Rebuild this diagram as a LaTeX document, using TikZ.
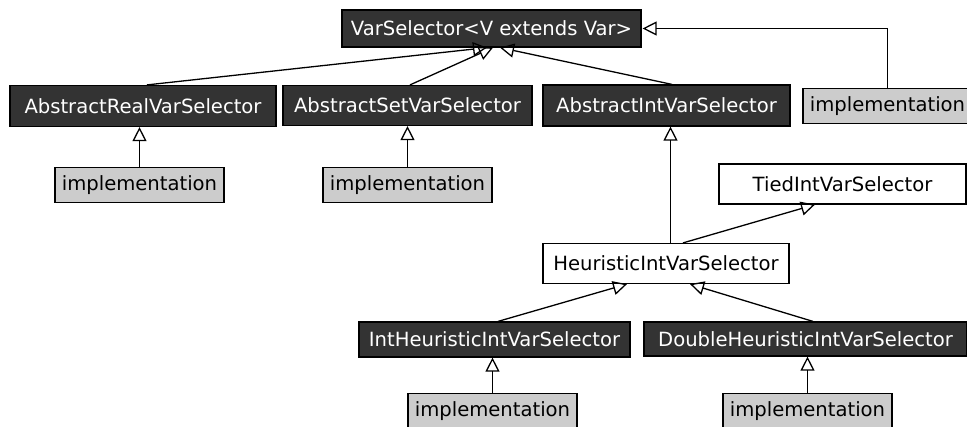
\documentclass[tikz,border=0pt]{standalone}
\usepackage{fontspec}
\setmainfont{DejaVu Sans}
\usetikzlibrary{arrows.meta}
\definecolor{darkbox}{RGB}{51,51,51}
\definecolor{implgray}{RGB}{204,204,204}
\begin{document}
\begin{tikzpicture}[x=1pt, y=-1pt,
        font=\fontsize{19.6}{23}\selectfont,
        cls/.style={draw=black, line width=1.2pt, inner sep=0pt},
        abst/.style={cls, fill=darkbox, text=white},
        impl/.style={cls, fill=implgray, minimum width=169pt, minimum height=35pt},
        plain/.style={cls, fill=white},
        inherit/.style={line width=1.3pt, -{Triangle[open, length=14pt, width=14pt]}}]
            \useasboundingbox (0, 0) rectangle (967, 426);

            \node[abst, minimum width=299pt, minimum height=37pt] (var) at (491.5, 28.5) {VarSelector<V extends Var>};
            \node[abst, minimum width=266pt, minimum height=41pt] (real) at (143, 106) {AbstractRealVarSelector};
            \node[abst, minimum width=249pt, minimum height=40pt] (set) at (407.5, 105.5) {AbstractSetVarSelector};
            \node[abst, minimum width=247pt, minimum height=41pt] (int) at (666.5, 105.5) {AbstractIntVarSelector};
            \node[impl] (implVar) at (887.5, 106) {implementation};
            \node[impl] (implReal) at (139.5, 185) {implementation};
            \node[impl] (implSet) at (407.5, 185) {implementation};
            \node[plain, minimum width=247pt, minimum height=40pt] (tied) at (842.5, 184) {TiedIntVarSelector};
            \node[plain, minimum width=246pt, minimum height=40pt] (heur) at (666, 263.5) {HeuristicIntVarSelector};
            \node[abst, minimum width=271pt, minimum height=35pt] (intHeur) at (494.5, 339.5) {IntHeuristicIntVarSelector};
            \node[abst, minimum width=323pt, minimum height=34pt] (dblHeur) at (805.5, 339) {DoubleHeuristicIntVarSelector};
            \node[impl] (implIntHeur) at (492.5, 411) {implementation};
            \node[impl] (implDblHeur) at (807.5, 411) {implementation};

            % generalisations
            \draw[inherit] ([xshift=4]real.north) -- ([xshift=-4.5]var.south);
            \draw[inherit] ([xshift=2.5]set.north) -- ([xshift=1.5]var.south);
            \draw[inherit] ([xshift=5.5]int.north) -- ([xshift=8.5]var.south);
            \draw[inherit] (implVar.north) |- ([xshift=1]var.east);
            \draw[inherit] (implReal.north) -- (implReal.north |- real.south);
            \draw[inherit] (implSet.north) -- (implSet.north |- set.south);
            \draw[inherit] ([xshift=4.5]heur.north) -- ([xshift=4.5]heur.north |- int.south);
            \draw[inherit] ([xshift=17]heur.north) -- ([xshift=-27.5]tied.south);
            \draw[inherit] ([xshift=3.5]intHeur.north) -- ([xshift=-39]heur.south);
            \draw[inherit] ([xshift=7.5]dblHeur.north) -- ([xshift=24]heur.south);
            \draw[inherit] (implIntHeur.north) -- (implIntHeur.north |- intHeur.south);
            \draw[inherit] (implDblHeur.north) -- (implDblHeur.north |- dblHeur.south);
        \end{tikzpicture}
\end{document}
